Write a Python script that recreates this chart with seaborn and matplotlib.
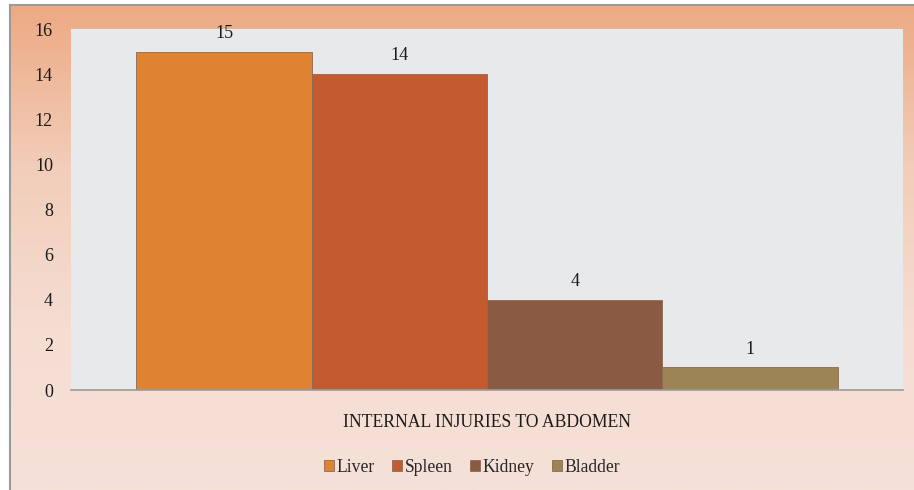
import numpy as np
import pandas as pd
import seaborn as sns
import matplotlib.pyplot as plt
from matplotlib.colors import LinearSegmentedColormap

# Data
group = ["INTERNAL INJURIES TO ABDOMEN"]
organs = ["Liver", "Spleen", "Kidney", "Bladder"]
counts = [15, 14, 4, 1]
colors = ["#DF8232", "#C45A30", "#8B5A43", "#9D8455"]

df = pd.DataFrame({"group": group * len(organs), "organ": organs, "count": counts})

sns.set_theme(style="white")
plt.rcParams["font.family"] = ["Liberation Serif", "DejaVu Serif"]

fig = plt.figure(figsize=(9.14, 4.9), dpi=100)
fig.patch.set_facecolor("white")

# Gradient background panel with gray frame (top and left only)
bg = fig.add_axes([10 / 914, 0, 904 / 914, 485 / 490], zorder=0)
grad = np.linspace(0, 1, 256).reshape(-1, 1)
cmap = LinearSegmentedColormap.from_list("bg", ["#EDA983", "#F2CDB9", "#F5DDD2", "#F6E1D8"])
bg.imshow(grad, aspect="auto", cmap=cmap, extent=[0, 1, 0, 1], origin="upper")
bg.set_xticks([])
bg.set_yticks([])
for side in ["top", "left"]:
    bg.spines[side].set_color("#9A9A9A")
    bg.spines[side].set_linewidth(1.5)
for side in ["bottom", "right"]:
    bg.spines[side].set_visible(False)

# Plot area
ax = fig.add_axes([71 / 914, 1 - 390 / 490, 832 / 914, 361 / 490], zorder=1)
ax.set_facecolor("#E8E9EB")
sns.barplot(data=df, x="group", y="count", hue="organ", palette=colors,
            width=0.843, dodge=True, ax=ax, edgecolor="#8a6a55", linewidth=0.6,
            saturation=1)
ax.set_xlim(-0.5, 0.5)
ax.set_ylim(0, 16)
ax.set_yticks(range(0, 17, 2))
ax.tick_params(axis="y", labelsize=13, length=0, pad=13, labelcolor="#1a1a1a")
ax.tick_params(axis="x", labelsize=12.7, length=0, pad=17, labelcolor="#1a1a1a")
ax.set_xlabel("")
ax.set_ylabel("")
for side in ["top", "left", "right"]:
    ax.spines[side].set_visible(False)
ax.spines["bottom"].set_color("#9A9A9A")
ax.spines["bottom"].set_linewidth(1.2)

for cont in ax.containers:
    ax.bar_label(cont, padding=7, fontsize=13, color="#1a1a1a")

sns.move_legend(ax, "center", bbox_to_anchor=(0.482, -0.215), ncol=4, frameon=False,
                title=None, fontsize=12.7, handlelength=0.6, handleheight=0.6,
                handletextpad=0.15, columnspacing=0.95)

fig.savefig("out.png", dpi=100, facecolor=fig.get_facecolor())
